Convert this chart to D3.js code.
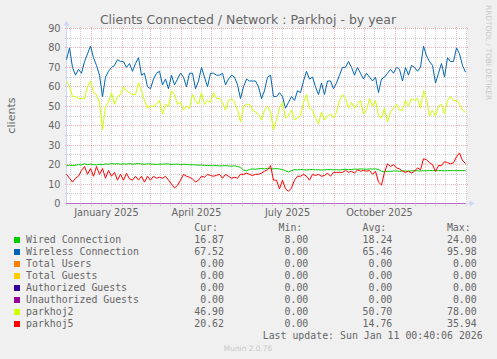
<!DOCTYPE html>
<html>
<head>
<meta charset="utf-8">
<script src="https://cdn.jsdelivr.net/npm/d3@7"></script>
<style>
	html, body { margin: 0; padding: 0; background: #f0f0f0; }
	svg { display: block; }
</style>
</head>
<body>
<svg id="graph" width="497" height="359"></svg>
<script>
(function(){
	'use strict';

	var startTime = new Date(2024, 11, 7, 0, 40, 6);
	var endTime = new Date(2026, 0, 11, 0, 40, 6);
	var spanDays = 399;

	// one value every 3 days
	var wired = [19.5,19.8,19.5,19.7,20,19.8,20.5,20,20.3,20,
		19.8,20.2,20,20.4,20.2,20.6,20.3,20.5,20.2,20.4,
		20.3,20.5,20.2,20.4,20.6,20.3,20.2,20.4,20.3,20.2,
		20.1,20.3,20.2,20.4,20.3,20.1,20.2,20.3,20.0,20.2,
		20.1,19.9,20.0,19.8,19.7,19.8,19.6,19.5,19.6,19.4,
		19.5,19.3,19.4,19.5,19.3,19.2,19.4,19.0,18.6,17.2,
		16.8,17.5,17.8,17.6,17.9,18.0,17.8,18.1,17.9,17.8,
		18.0,17.7,17.5,16.8,16.2,16.9,17.4,17.3,17.5,17.4,
		17.2,17.4,17.5,17.3,17.4,17.2,17.3,17.5,17.4,17.3,
		17.4,17.2,17.5,17.6,17.4,17.5,17.7,17.6,17.8,17.7,
		17.6,17.8,17.7,17.8,17.5,16.6,16.2,16.6,16.5,16.8,
		16.7,16.6,16.8,16.7,16.6,16.8,16.9,16.8,16.7,16.9,
		16.8,17.0,16.9,16.8,16.9,17.0,16.8,16.9,17.0,16.9,
		16.9,17.0,16.9,16.87];
	var wireless = [74,80,70,66,69,67,73,77,81,75,
		71,66,55,65,68,70,71,74,73,73,
		70,72,68,72,75,66,67,60,59,64,
		67,68,61,64,59,66,61,64,67,65,
		60,67,67,59,63,70,65,60,67,67,
		66,66,67,61,64,66,65,61,54,60,
		64,63,63,63,60,54,58,65,66,55,
		55,57,55,49,52,55,53,58,57,63,
		68,64,65,60,56,62,56,63,63,59,
		62,66,70,70,73,70,66,70,67,64,
		67,65,63,65,57,64,65,67,69,67,
		70,69,63,70,66,71,70,68,70,81,
		76,73,71,62,67,72,65,75,73,73,
		80,77,71,67.52];
	var totalUsers = [0, 0];
	var totalGuests = [0, 0];
	var authorizedGuests = [0, 0];
	var unauthorizedGuests = [0, 0];
	var parkhoj2 = [63,60,55,55,54,54,54,60,63,57,
		56,52,38,50,52,57,51,55,56,60,
		58,57,56,56,62,58,53,49,50,50,
		51,53,46,51,50,58,56,51,52,48,
		50,49,56,53,51,57,51,53,52,57,
		54,54,52,48,53,54,52,48,42,50,
		51,51,48,47,46,43,48,50,47,38,
		43,49,52,44,45,48,43,44,45,52,
		56,49,48,44,41,47,43,45,46,44,
		47,53,56,54,49,52,49,51,53,46,
		48,54,50,53,45,44,49,42,47,49,
		51,48,48,53,50,54,53,54,49,58,
		54,45,48,45,50,51,46,53,55,53,
		53,51,48,46.9];
	var parkhoj5 = [15,13,11,13,14,17,19,15,18,14,
		19,15,18,13,17,14,16,12,15,12,
		15.5,12.7,12,14,12,14,11,14,12,14,
		13,13.5,13,14,12,10,8,9.3,12,15,
		14,13.5,12.7,11,12,14,13.5,15,14.4,14,
		14.5,15,13,15,14,13,13.5,13,15,15,
		15.6,15,14.4,15,15,15.6,16.6,17.3,19.5,12,
		12,7.5,12,7.5,6.3,8,12,14,14,15,
		14,12,15,14.4,15,14,14.4,15.6,14,16,
		16,16,16,17,16,16.6,15.6,17.3,16.6,17,
		16.6,17,15,16.6,11,9.5,16,20.4,19,20,
		18.3,17.8,16.6,16,16.6,15.6,16.6,18.3,17.3,23,
		22.5,21,20,16.5,19.5,19.5,21.5,21,20.4,21,
		24,26,22,20.62];

	var seriesNames = ['Wired Connection', 'Wireless Connection', 'Total Users', 'Total Guests',
		'Authorized Guests', 'Unauthorized Guests', 'parkhoj2', 'parkhoj5'];
	var seriesColors = ['#00cc00', '#0066b3', '#ff8000', '#ffcc00', '#330099', '#990099', '#ccff00', '#ff0000'];
	var seriesValues = [wired, wireless, totalUsers, totalGuests, authorizedGuests, unauthorizedGuests, parkhoj2, parkhoj5];
	var curValues = ['16.87', '67.52', '0.00', '0.00', '0.00', '0.00', '46.90', '20.62'];
	var minValues = ['8.00', '0.00', '0.00', '0.00', '0.00', '0.00', '0.00', '0.00'];
	var avgValues = ['18.24', '65.46', '0.00', '0.00', '0.00', '0.00', '50.70', '14.76'];
	var maxValues = ['24.00', '95.98', '0.00', '0.00', '0.00', '0.00', '78.00', '35.94'];
	var statHeaders = ['Cur:', 'Min:', 'Avg:', 'Max:'];

	var yMajorTicks = [0, 10, 20, 30, 40, 50, 60, 70, 80, 90];
	var yMinorTicks = [5, 15, 25, 35, 45, 55, 65, 75, 85];
	var monthLabels = [new Date(2025, 0, 16), new Date(2025, 3, 16), new Date(2025, 6, 16), new Date(2025, 9, 16)];

	var fontSans = "'DejaVu Sans', sans-serif";
	var fontMono = "'DejaVu Sans Mono', monospace";
	var textColor = '#666666';
	var axisColor = '#cfd6f8';
	var minorColor = 'rgba(143,143,143,0.4)';
	var majorColor = 'rgba(222,79,79,0.42)';

	var svg = d3.select('#graph');
	var left = 66.5, right = 466.5, bottom = 203.5, top = 28.5;

	var x = d3.scaleTime().domain([startTime, endTime]).range([left, right]);
	var y = d3.scaleLinear().domain([0, 90]).range([bottom, top]);

	function gx(d){ return Math.round(x(d)) + 0.5; }
	function gy(d){ return Math.floor(y(d)) + 0.5; }

	svg.append('rect')
		.attr('width', 497).attr('height', 359)
		.attr('fill', '#f0f0f0');
	svg.append('rect')
		.attr('x', left).attr('y', top)
		.attr('width', right - left).attr('height', bottom - top)
		.attr('fill', '#ffffff');

	// minor grid
	var minorDays = [];
	d3.timeMonth.range(d3.timeMonth.floor(startTime), endTime).forEach(function(m){
		[11, 21].forEach(function(day){
			var d = new Date(m.getFullYear(), m.getMonth(), day);
			if (d > startTime && d < endTime) minorDays.push(d);
		});
	});
	var grid = svg.append('g')
		.attr('stroke-dasharray', '1,1')
		.attr('shape-rendering', 'crispEdges');

	grid.selectAll('.vminor')
		.data(minorDays)
		.enter().append('line')
		.attr('x1', gx).attr('x2', gx)
		.attr('y1', top - 2).attr('y2', bottom + 2)
		.attr('stroke', minorColor);

	grid.selectAll('.hminor')
		.data(yMinorTicks)
		.enter().append('line')
		.attr('x1', left - 2).attr('x2', right + 2)
		.attr('y1', gy).attr('y2', gy)
		.attr('stroke', minorColor);

	grid.selectAll('.vmajor')
		.data(d3.timeMonth.range(startTime, endTime))
		.enter().append('line')
		.attr('x1', gx).attr('x2', gx)
		.attr('y1', top - 2).attr('y2', bottom + 2)
		.attr('stroke', majorColor);

	grid.selectAll('.hmajor')
		.data(yMajorTicks.slice(1))
		.enter().append('line')
		.attr('x1', left - 2).attr('x2', right + 2)
		.attr('y1', gy).attr('y2', gy)
		.attr('stroke', majorColor);

	// left axis and arrows
	svg.append('line')
		.attr('x1', left).attr('x2', left)
		.attr('y1', bottom + 2).attr('y2', top - 5)
		.attr('stroke', axisColor);
	svg.append('path')
		.attr('d', 'M' + (left - 3) + ',' + (top - 3) + 'L' + (left + 3) + ',' + (top - 3) + 'L' + left + ',' + (top - 8) + 'Z')
		.attr('fill', axisColor);
	svg.append('path')
		.attr('d', 'M' + (right + 3) + ',' + (bottom - 3) + 'L' + (right + 3) + ',' + (bottom + 3) + 'L' + (right + 8) + ',' + bottom + 'Z')
		.attr('fill', axisColor);

	svg.selectAll('.ylabel')
		.data(yMajorTicks)
		.enter().append('text')
		.attr('x', 60.5)
		.attr('y', function(d){ return gy(d) + 3.5; })
		.attr('text-anchor', 'end')
		.attr('font-family', fontSans)
		.attr('font-size', '9.7px')
		.attr('fill', textColor)
		.text(function(d){ return d; });

	svg.selectAll('.xlabel')
		.data(monthLabels)
		.enter().append('text')
		.attr('x', function(d){ return x(d); })
		.attr('y', 216)
		.attr('text-anchor', 'middle')
		.attr('font-family', fontSans)
		.attr('font-size', '9.7px')
		.attr('fill', textColor)
		.text(d3.timeFormat('%B %Y'));

	// series
	var line = d3.line()
		.x(function(d){ return x(d.t); })
		.y(function(d){ return y(d.v); });

	function toPoints(values){
		var step = spanDays / (values.length - 1);
		return values.map(function(v, i){
			return { t: d3.timeHour.offset(startTime, Math.round(i * step * 24)), v: v };
		});
	}

	svg.selectAll('.series')
		.data(seriesValues)
		.enter().append('path')
		.attr('d', function(d){ return line(toPoints(d)); })
		.attr('fill', 'none')
		.attr('stroke', function(d, i){ return seriesColors[i]; })
		.attr('stroke-width', 1)
		.attr('stroke-linejoin', 'round');

	// x axis sits over the zero lines, half see-through
	svg.append('line')
		.attr('x1', left - 2).attr('x2', right + 4)
		.attr('y1', bottom).attr('y2', bottom)
		.attr('stroke', axisColor)
		.attr('stroke-opacity', 0.5);

	// texts
	svg.append('text')
		.attr('x', 248).attr('y', 24)
		.attr('text-anchor', 'middle')
		.attr('font-family', fontSans)
		.attr('font-size', '12.5px')
		.attr('fill', textColor)
		.text('Clients Connected / Network : Parkhoj - by year');

	svg.append('text')
		.attr('transform', 'translate(15,115.5) rotate(-90)')
		.attr('text-anchor', 'middle')
		.attr('font-family', fontSans)
		.attr('font-size', '11.1px')
		.attr('fill', textColor)
		.text('clients');

	svg.append('text')
		.attr('transform', 'translate(485.5,5) rotate(90)')
		.attr('font-family', fontSans)
		.attr('font-size', '7.4px')
		.attr('fill', '#c8c8c8')
		.text('RRDTOOL / TOBI OETIKER');

	// legend
	var legend = svg.append('g')
		.attr('font-family', fontMono)
		.attr('font-size', '9.9px')
		.attr('fill', textColor);
	var headerEnds = [218, 302.3, 386.3, 470.7];
	var valueEnds = [224, 308.3, 392.3, 476.7];
	var statColumns = [curValues, minValues, avgValues, maxValues];

	statHeaders.forEach(function(h, j){
		legend.append('text')
			.attr('x', headerEnds[j]).attr('y', 231.3)
			.attr('text-anchor', 'end')
			.text(h);
	});

	seriesNames.forEach(function(name, i){
		var base = 243.3 + i * 12;
		legend.append('rect')
			.attr('x', 14).attr('y', base - 6.3)
			.attr('width', 6).attr('height', 6)
			.attr('fill', seriesColors[i]);
		legend.append('text')
			.attr('x', 26).attr('y', base)
			.text(name);
		statColumns.forEach(function(col, j){
			legend.append('text')
				.attr('x', valueEnds[j]).attr('y', base)
				.attr('text-anchor', 'end')
				.text(col[i]);
		});
	});

	legend.append('text')
		.attr('x', 482.7).attr('y', 339.3)
		.attr('text-anchor', 'end')
		.text('Last update: Sun Jan 11 00:40:06 2026');

	svg.append('text')
		.attr('x', 248).attr('y', 351)
		.attr('text-anchor', 'middle')
		.attr('font-family', fontSans)
		.attr('font-size', '7.4px')
		.attr('fill', '#c8c8c8')
		.text('Munin 2.0.76');

})();
</script>
</body>
</html>
